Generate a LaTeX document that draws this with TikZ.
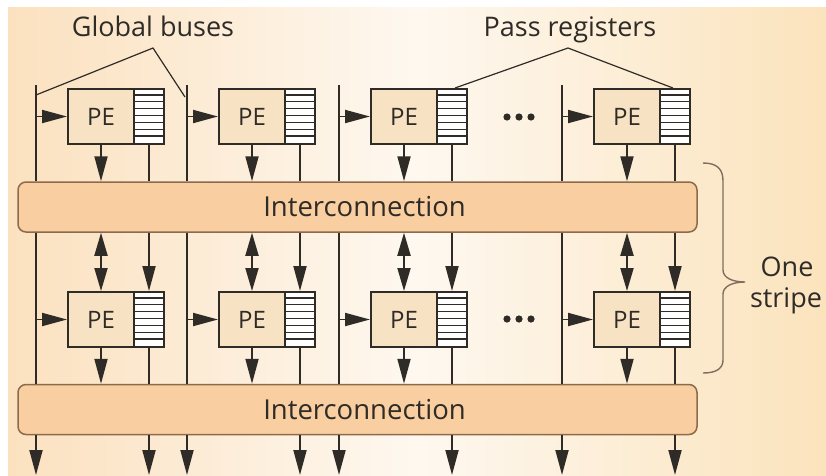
\documentclass[tikz,border=0pt]{standalone}
\usepackage{fontspec}
\setmainfont{Open Sans}
\usetikzlibrary{arrows.meta,calc}
\definecolor{ink}{HTML}{2F2B27}
\definecolor{bgL}{HTML}{FBE1BF}
\definecolor{bgM}{HTML}{FEF8F0}
\definecolor{bgR}{HTML}{FBE3BC}
\definecolor{icfill}{HTML}{F9CEA0}
\definecolor{icedge}{HTML}{8C6A4C}
\definecolor{pefill}{HTML}{F7E2C3}
\definecolor{bracecol}{HTML}{7E6E5E}
\tikzset{
  lbl/.style={font=\fontsize{27}{30}\selectfont, text=ink, inner sep=0pt},
  pebox/.style={draw=ink, fill=pefill, line width=2pt, minimum width=66pt, minimum height=55pt, inner sep=0pt, font=\fontsize{24}{26}\selectfont, text=ink},
  regbox/.style={draw=ink, fill=white, line width=2pt, minimum width=30pt, minimum height=55pt, inner sep=0pt},
  icbox/.style={draw=icedge, fill=icfill, line width=1.5pt, rounded corners=8pt, minimum width=679pt, minimum height=50pt, inner sep=0pt, font=\fontsize{27.5}{30}\selectfont, text=ink},
  wire/.style={draw=ink, line width=1.9pt},
  arr/.style={wire, -{Triangle[length=25pt,width=13pt]}},
  darr/.style={wire, {Triangle[length=23pt,width=13pt]}-{Triangle[length=23pt,width=13pt]}},
  pointer/.style={draw=ink, line width=1.2pt},
  stripe/.style={draw=ink, line width=1.3pt}
}
\begin{document}
\begin{tikzpicture}[x=1pt,y=-1pt]
\useasboundingbox (0,0) rectangle (826,475);
\fill[white] (0,0) rectangle (826,475);
\shade[left color=bgL, right color=bgR, middle color=bgM] (8,7) rectangle (826,475);

% labels
\node[lbl, anchor=base] (gb) at (153,36) {Global buses};
\node[lbl, anchor=base] (pr) at (570,36) {Pass registers};
\node[lbl, anchor=base] (one) at (787,276) {One};
\node[lbl, anchor=base] (stripe) at (786,307) {stripe};

% interconnections
\node[icbox] (ic1) at (357.5,207) {\hspace{14pt}Interconnection};
\node[icbox] (ic2) at (357.5,409.5) {\hspace{14pt}Interconnection};

\foreach \i/\bx in {1/36,2/187,3/339,4/562} {
  \coordinate (bus\i) at (\bx,85);
  \coordinate (endb\i) at (\bx,475);
  \node[pebox] (pea\i) at (\bx+65,116.5) {PE};
  \node[regbox] (rega\i) at (\bx+113,116.5) {};
  \node[pebox] (peb\i) at (\bx+65,319.5) {PE};
  \node[regbox] (regb\i) at (\bx+113,319.5) {};
  \foreach \k in {1,...,7} {
    \draw[stripe] ($(rega\i.north west)+(0,\k*6.875)$) -- ($(rega\i.north east)+(0,\k*6.875)$);
    \draw[stripe] ($(regb\i.north west)+(0,\k*6.875)$) -- ($(regb\i.north east)+(0,\k*6.875)$);
  }
  % row 1
  \draw[wire] (bus\i) -- (bus\i |- ic1.north);
  \draw[arr] (bus\i |- pea\i.west) -- (pea\i.west);
  \draw[arr] (pea\i.south) -- (pea\i.south |- ic1.north);
  \draw[wire] (rega\i.south) -- (rega\i.south |- ic1.north);
  % row 2
  \draw[wire] (bus\i |- ic1.south) -- (bus\i |- ic2.north);
  \draw[arr] (bus\i |- peb\i.west) -- (peb\i.west);
  \draw[darr] (peb\i.north |- ic1.south) -- (peb\i.north);
  \draw[arr] (regb\i.north |- ic1.south) -- (regb\i.north);
  \draw[arr] (peb\i.south) -- (peb\i.south |- ic2.north);
  \draw[wire] (regb\i.south) -- (regb\i.south |- ic2.north);
  % bottom outputs
  \draw[arr] (bus\i |- ic2.south) -- (endb\i);
  \draw[arr] (regb\i.south |- ic2.south) -- (regb\i.south |- endb\i);
}

% ellipsis dots
\foreach \y in {117,319} {
  \foreach \x in {507,519,531} \fill[ink] (\x,\y) circle (3.6pt);
}

% pointer lines
\coordinate (gbA) at (153,48);
\coordinate (gbL) at (36,95);
\coordinate (gbR) at (185,97);
\draw[pointer] (gbL) -- (gbA) -- (gbR);
\coordinate (prA) at (568,48);
\draw[pointer] ($(rega3.north)+(3,0)$) -- (prA) -- ($(rega4.north)+(-2,0)$);

% brace
\coordinate (brT) at (703,163);
\coordinate (brM) at (745,282);
\coordinate (brB) at (703,373);
\draw[draw=bracecol, line width=1.4pt]
  (brT) .. controls (717,163) and (723,169) .. (723,181)
  -- (723,270) .. controls (723,278) and (733,282) .. (brM)
  .. controls (733,282) and (723,286) .. (723,294)
  -- (723,360) .. controls (723,368) and (717,373) .. (brB);
\end{tikzpicture}
\end{document}
